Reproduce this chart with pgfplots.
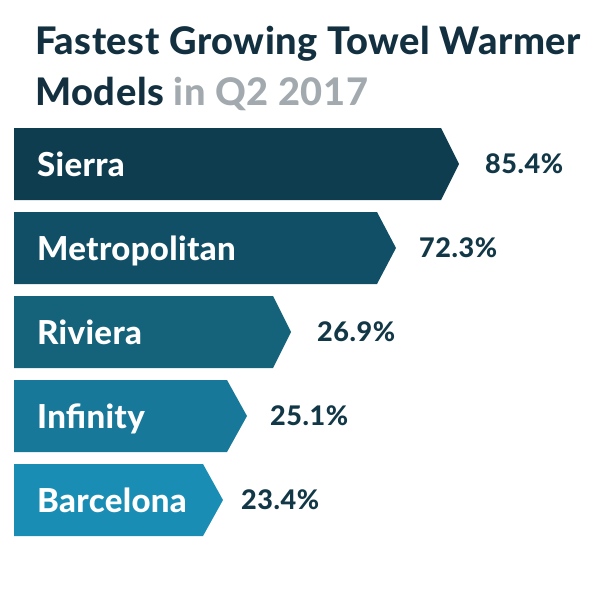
\documentclass[border=0pt]{standalone}
\usepackage{pgfplots}
\pgfplotsset{compat=1.18}
\usepackage{fontspec}
\setmainfont{Lato}[BoldFont={Lato Heavy}]

\definecolor{titlecol}{HTML}{12303F}
\definecolor{graycol}{HTML}{A2AAAF}
\definecolor{valcol}{HTML}{123847}
\definecolor{barA}{HTML}{0E3D50}
\definecolor{barB}{HTML}{104F66}
\definecolor{barC}{HTML}{15627B}
\definecolor{barD}{HTML}{17789A}
\definecolor{barE}{HTML}{1A8DB5}

\newcommand{\lbl}[3]{\node[anchor=base west,inner sep=0pt,text=white,
  font=\bfseries\fontsize{33}{33}\selectfont\addfontfeatures{LetterSpace=1}] at (axis cs:#1,#2) {#3};}
\newcommand{\val}[3]{\node[anchor=base west,inner sep=0pt,text=valcol,
  font=\bfseries\fontsize{27}{27}\selectfont\addfontfeatures{LetterSpace=2}] at (axis cs:#1,#2) {#3};}

\begin{document}
\begin{tikzpicture}
\begin{axis}[
  width=600pt, height=600pt, scale only axis,
  xmin=0, xmax=600, ymin=0, ymax=600, y dir=reverse,
  hide axis, clip=false,
  ]
  % keep the full 600x600 canvas
  \path (axis cs:0,0) rectangle (axis cs:600,600);

  % arrow bars: flat end, tip, top, bottom (drawn lengths as in the picture)
  \addplot[fill=barA,draw=none] coordinates {(14,128)(441,128)(459,164)(441,200)(14,200)} --cycle;
  \addplot[fill=barB,draw=none] coordinates {(14,212)(377,212)(396,248)(377,284)(14,284)} --cycle;
  \addplot[fill=barC,draw=none] coordinates {(14,296)(273,296)(291,332)(273,368)(14,368)} --cycle;
  \addplot[fill=barD,draw=none] coordinates {(14,380)(227,380)(247,416)(227,452)(14,452)} --cycle;
  \addplot[fill=barE,draw=none] coordinates {(14,464)(203,464)(223,500)(203,536)(14,536)} --cycle;

  \lbl{37}{176}{Sierra}
  \lbl{37}{260}{Metropolitan}
  \lbl{37}{344}{Riviera}
  \lbl{37}{428}{Infinity}
  \lbl{37}{512}{Barcelona}

  \val{485}{173.5}{85.4\%}
  \val{419}{257.5}{72.3\%}
  \val{317}{341.5}{26.9\%}
  \val{270}{425.5}{25.1\%}
  \val{241}{509.5}{23.4\%}

  \node[anchor=base west,inner sep=0pt,text=titlecol,
    font=\bfseries\fontsize{38}{38}\selectfont\addfontfeatures{LetterSpace=1.5}] at (axis cs:35,54) {Fastest Growing Towel Warmer};
  \node[anchor=base west,inner sep=0pt,text=titlecol,
    font=\bfseries\fontsize{38}{38}\selectfont\addfontfeatures{LetterSpace=1.5}] at (axis cs:35,105) {Models \textcolor{graycol}{in Q2 2017}};
\end{axis}
\end{tikzpicture}
\end{document}
